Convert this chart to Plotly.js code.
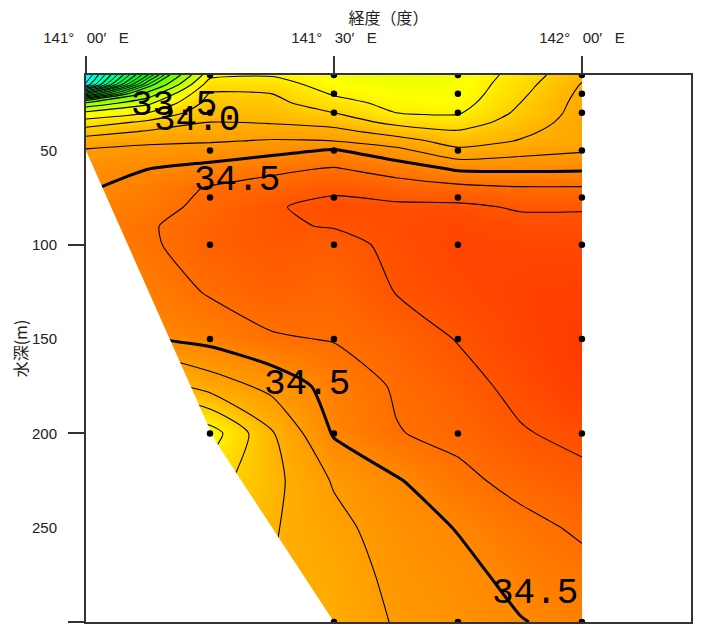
<!DOCTYPE html>
<html><head><meta charset="utf-8">
<script src="https://cdn.plot.ly/plotly-3.0.1.min.js"></script>
<style>html,body{margin:0;padding:0;background:#fff}#c{width:701px;height:626px}</style></head>
<body><div id="c"></div>
<script>
// longitude, minutes east of 141 deg
const lonMinutes=[0,7.5,15,22.5,30,37.5,45,52.5,60];
const depths=[10,15,20,25,30,35,40,45,50,60,70,80,90,100,125,150,175,200,225,250,275,300];
// salinity (one row per depth)
const s10 =[33.00,33.50,34.07,34.09,34.03,34.00,34.02,34.14,34.28];
const s15 =[33.06,33.65,34.15,34.15,34.05,34.02,34.03,34.16,34.305];
const s20 =[33.42,33.84,34.21,34.20,34.09,34.04,34.04,34.18,34.32];
const s25 =[33.82,33.98,34.24,34.23,34.14,34.07,34.06,34.20,34.33];
const s30 =[34.02,34.10,34.27,34.26,34.20,34.10,34.09,34.22,34.335];
const s35 =[34.14,34.22,34.30,34.29,34.26,34.17,34.14,34.25,34.34];
const s40 =[34.25,34.31,34.35,34.35,34.33,34.26,34.21,34.28,34.345];
const s45 =[34.35,34.38,34.39,34.41,34.40,34.34,34.26,34.305,34.36];
const s50 =[34.41,34.43,34.45,34.47,34.51,34.43,34.32,34.36,34.39];
const s60 =[34.47,34.50,34.53,34.58,34.61,34.56,34.49,34.485,34.49];
const s70 =[34.49,34.54,34.61,34.64,34.68,34.65,34.63,34.61,34.61];
const s80 =[34.52,34.56,34.63,34.69,34.73,34.72,34.72,34.69,34.69];
const s90 =[34.52,34.59,34.645,34.69,34.705,34.73,34.75,34.73,34.73];
const s100=[34.52,34.585,34.65,34.68,34.67,34.72,34.76,34.75,34.75];
const s125=[34.50,34.54,34.61,34.65,34.63,34.703,34.74,34.77,34.78];
const s150=[34.45,34.49,34.53,34.59,34.605,34.64,34.705,34.76,34.80];
const s175=[34.35,34.24,34.34,34.43,34.54,34.61,34.66,34.73,34.79];
const s200=[34.20,34.05,34.05,34.29,34.51,34.595,34.625,34.69,34.73];
const s225=[34.10,34.05,34.16,34.27,34.41,34.49,34.575,34.63,34.67];
const s250=[34.10,34.05,34.20,34.29,34.37,34.45,34.505,34.57,34.615];
const s275=[34.10,34.05,34.20,34.30,34.34,34.43,34.47,34.53,34.57];
const s300=[34.10,34.05,34.20,34.30,34.32,34.41,34.45,34.495,34.53];
const salinity=[s10,s15,s20,s25,s30,s35,s40,s45,s50,s60,s70,s80,s90,s100,s125,s150,s175,s200,s225,s250,s275,s300];
// sea-floor outline (sections below it carry no data)
const floorX=[0,0,15.5,30,0];
const floorY=[300,50,203,300,300];
// sampling stations
const stationX=[15,15,15,15,15,15,15, 30,30,30,30,30,30,30,30,30, 45,45,45,45,45,45,45,45,45, 60,60,60,60,60,60,60,60,60];
const stationY=[10,30,50,75,100,150,200, 10,20,30,50,75,100,150,200,300, 10,20,30,50,75,100,150,200,300, 10,20,30,50,75,100,150,200,300];
// tick labels
const xTickVals=[0,30,60];
const xTickText=["141°\u00a0\u00a0\u00a000′\u00a0\u00a0\u00a0E","141°\u00a0\u00a0\u00a030′\u00a0\u00a0\u00a0E","142°\u00a0\u00a0\u00a000′\u00a0\u00a0\u00a0E"];
const yTickVals=[50,100,150,200,250,300];
const yMarkedTicks=[100,200,300];
// contour labels
const labelText=["33.5","34.0","34.5","34.5","34.5"];
const labelX=[10.6,13.4,18.3,26.7,54.3];
const labelY=[26,34,65.7,174,285];

const ink='#333333';
const tickFont={family:'"Liberation Sans",sans-serif',size:15,color:'#222'};
const scale=[[0,'#00ffff'],[(33.5-33)/2,'#00ff00'],[(34.05-33)/2,'#ffff00'],[(34.3-33)/2,'#ffb000'],[(34.5-33)/2,'#ff8800'],[(34.8-33)/2,'#ff3a00'],[1,'#ff3a00']];
const traces=[
 {type:'contour',x:lonMinutes,y:depths,z:salinity,zmin:33,zmax:35,colorscale:scale,showscale:false,autocontour:false,
  contours:{coloring:'heatmap',start:32.5,end:35,size:0.1,showlabels:false},line:{color:'#000',width:1.1,smoothing:0.6},hoverinfo:'skip'},
 {type:'contour',x:lonMinutes,y:depths,z:salinity,showscale:false,autocontour:false,
  contours:{coloring:'none',start:33.05,end:33.65,size:0.1},line:{color:'#000',width:1,smoothing:0.6},hoverinfo:'skip'},
 {type:'contour',x:lonMinutes,y:depths,z:salinity,showscale:false,autocontour:false,
  contours:{coloring:'none',start:34.5,end:34.5,size:1},line:{color:'#000',width:3,smoothing:0.6},hoverinfo:'skip'},
 {type:'scatter',x:floorX,y:floorY,mode:'none',fill:'toself',fillcolor:'#ffffff',hoverinfo:'skip',showlegend:false},
 {type:'scatter',x:stationX,y:stationY,mode:'markers',marker:{color:'#000',size:6.5},hoverinfo:'skip',showlegend:false},
 {type:'scatter',x:[0],y:[10],yaxis:'y2',mode:'none',hoverinfo:'skip',showlegend:false}
];
const layout={
 width:701,height:626,margin:{l:86,r:10,t:75,b:4},paper_bgcolor:'#fff',plot_bgcolor:'#fff',showlegend:false,
 xaxis:{range:[0,73.2],side:'top',tickmode:'array',tickvals:xTickVals,ticktext:xTickText,ticks:'outside',ticklen:17,tickwidth:2,tickcolor:ink,
  tickfont:tickFont,ticklabelstandoff:7,showgrid:false,zeroline:false,showline:true,mirror:true,linecolor:ink,linewidth:2,
  title:{text:'経度（度）',font:{family:'"Noto Sans CJK JP"',size:16,color:'#222'},standoff:0}},
 yaxis:{range:[300,10],tickmode:'array',tickvals:yTickVals,ticks:'outside',ticklen:17,tickwidth:2,tickcolor:'rgba(0,0,0,0)',
  tickfont:tickFont,ticklabelstandoff:7,showgrid:false,zeroline:false,showline:true,mirror:true,linecolor:ink,linewidth:2,
  title:{text:'水深(m)',font:{family:'"Noto Sans CJK JP"',size:16,color:'#222'},standoff:0}},
 yaxis2:{overlaying:'y',side:'left',range:[300,10],tickmode:'array',tickvals:yMarkedTicks,ticks:'outside',ticklen:17,tickwidth:2,tickcolor:ink,
  showticklabels:false,showgrid:false,zeroline:false,showline:false},
 annotations:labelText.map((t,i)=>({x:labelX[i],y:labelY[i],xref:'x',yref:'y',text:t,showarrow:false,
  font:{family:'"Liberation Mono",monospace',size:36,color:'#000'}}))
};
Plotly.newPlot('c',traces,layout,{staticPlot:true,displayModeBar:false});
</script></body></html>
